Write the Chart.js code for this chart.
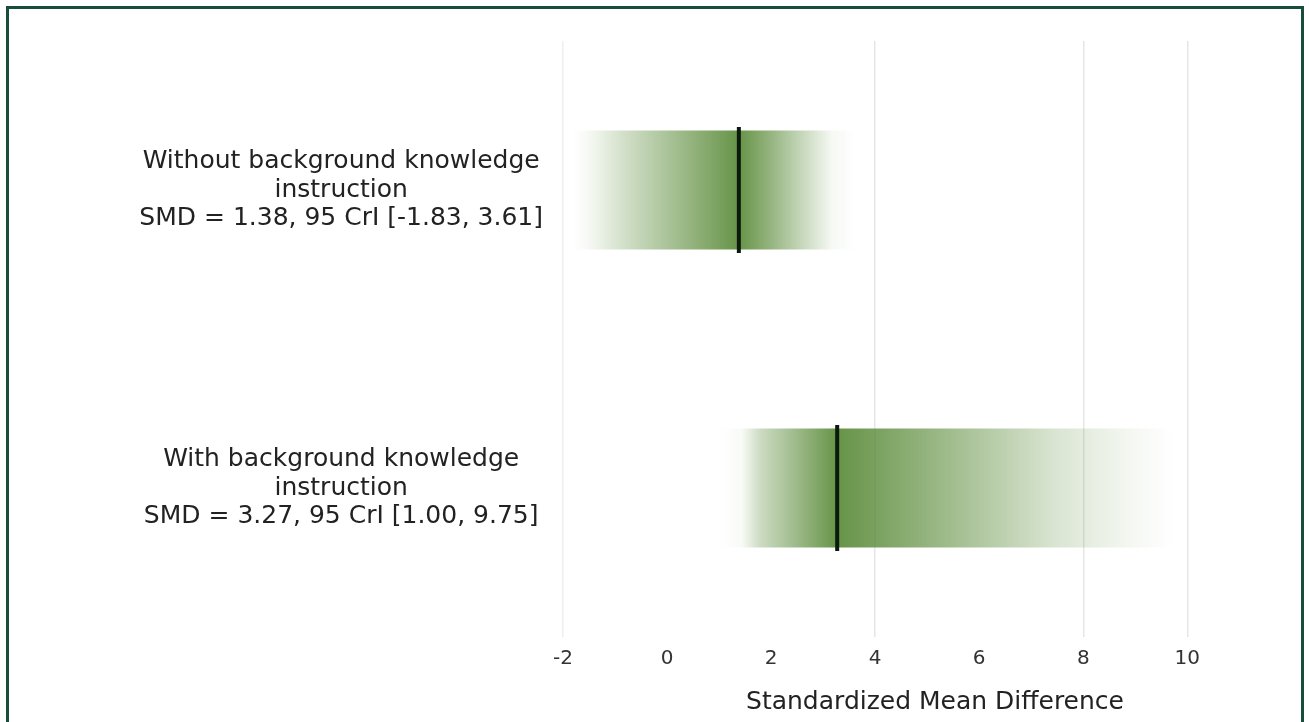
<!DOCTYPE html>
<html>
<head>
<meta charset="utf-8">
<script src="https://cdn.jsdelivr.net/npm/chart.js@4/dist/chart.umd.min.js"></script>
<style>
  html, body { margin: 0; padding: 0; background: #ffffff; }
  #wrap { position: relative; width: 1309px; height: 722px; overflow: hidden; }
  #frame { position: absolute; left: 6px; top: 6px; width: 1298px; height: 740px;
           border: 3px solid #174d39; box-sizing: border-box; pointer-events: none; }
  canvas { position: absolute; left: 0; top: 0; }
</style>
</head>
<body>
<div id="wrap">
  <canvas id="chart" width="1309" height="722"></canvas>
  <div id="frame"></div>
</div>
<script>
// Groups shown on the vertical axis (one label per row, multi-line)
const categories = [
  ["Without background knowledge", "instruction", "SMD = 1.38, 95 CrI [-1.83, 3.61]"],
  ["With background knowledge", "instruction", "SMD = 3.27, 95 CrI [1.00, 9.75]"]
];
// Posterior mean effect and 95% credible interval per group
const smd = [1.38, 3.27];
const criLow = [-1.83, 1.00];
const criHigh = [3.61, 9.75];
// Horizontal axis
const xTicks = [-2, 0, 2, 4, 6, 8, 10];
const xMin = -2, xMax = 12.3;

const fontFamily = '"DejaVu Sans", sans-serif';

// Horizontal gradient for each interval bar: densest at the mean, fading toward the ends
function intervalFill(ctx) {
  const chart = ctx.chart;
  const area = chart.chartArea;
  if (!area) return 'rgba(90,138,55,0.6)';
  const i = ctx.dataIndex;
  const xs = chart.scales.x;
  const x0 = xs.getPixelForValue(criLow[i]);
  const x1 = xs.getPixelForValue(criHigh[i]);
  const m = (smd[i] - criLow[i]) / (criHigh[i] - criLow[i]);
  const g = chart.ctx.createLinearGradient(x0, 0, x1, 0);
  const c = (a) => `rgba(86,136,52,${a})`;
  g.addColorStop(0, c(0));
  g.addColorStop(0.05, c(0.04));
  g.addColorStop(m * 0.35, c(0.3));
  g.addColorStop(m * 0.7, c(0.62));
  g.addColorStop(m, c(0.9));
  g.addColorStop(m + (1 - m) * 0.3, c(0.6));
  g.addColorStop(m + (1 - m) * 0.65, c(0.22));
  g.addColorStop(0.92, c(0.05));
  g.addColorStop(1, c(0));
  return g;
}

// Light vertical gridlines only where the axis shows them
const gridColors = { '-2': '#efefef', '4': '#e6e6e6', '8': '#e6e6e6', '10': '#e6e6e6' };

new Chart(document.getElementById('chart'), {
  type: 'bar',
  data: {
    labels: categories,
    datasets: [
      {
        type: 'bar',
        label: '95 CrI',
        data: criLow.map((lo, i) => [lo, criHigh[i]]),
        backgroundColor: intervalFill,
        borderWidth: 0,
        barPercentage: 0.8,
        categoryPercentage: 0.5,
        order: 2
      },
      {
        type: 'line',
        label: 'SMD',
        data: smd.map((v, i) => ({ x: v, y: categories[i] })),
        showLine: false,
        pointStyle: 'line',
        rotation: 90,
        radius: 63,
        hoverRadius: 63,
        borderColor: '#0c1a0c',
        pointBorderWidth: 4,
        borderWidth: 4,
        order: 1
      }
    ]
  },
  options: {
    indexAxis: 'y',
    responsive: false,
    animation: false,
    layout: { autoPadding: false, padding: { left: 118, top: 41, right: 2, bottom: 5 } },
    plugins: { legend: { display: false }, tooltip: { enabled: false } },
    scales: {
      x: {
        type: 'linear',
        min: xMin,
        max: xMax,
        afterBuildTicks: (scale) => { scale.ticks = xTicks.map(v => ({ value: v })); },
        ticks: {
          color: '#333333',
          font: { family: fontFamily, size: 20 },
          padding: 10,
          callback: (v) => String(v)
        },
        grid: {
          color: (c) => gridColors[String(c.tick && c.tick.value)] || 'rgba(0,0,0,0)',
          lineWidth: 1.5,
          drawTicks: false
        },
        border: { display: false },
        title: {
          display: true,
          text: 'Standardized Mean Difference',
          color: '#222222',
          font: { family: fontFamily, size: 25 },
          padding: { top: 6, bottom: 0 }
        }
      },
      y: {
        type: 'category',
        offset: true,
        afterFit: (scale) => {
          scale.width = 445;
          scale.paddingTop = 0;
          scale.paddingBottom = 0;
        },
        ticks: {
          crossAlign: 'center',
          color: '#222222',
          font: { family: fontFamily, size: 25, lineHeight: 1.14 },
          padding: 12
        },
        grid: { display: false },
        border: { display: false }
      }
    }
  }
});
</script>
</body>
</html>
